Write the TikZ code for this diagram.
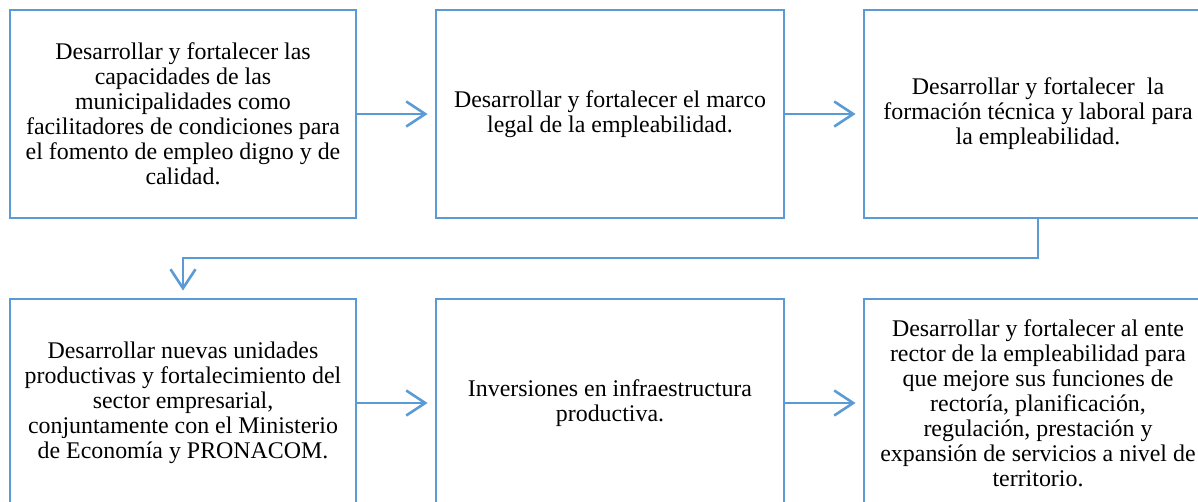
\documentclass[tikz,border=0pt]{standalone}
\usepackage{fontspec}
\setmainfont{Liberation Serif}
\usetikzlibrary{arrows.meta}
\definecolor{lineblue}{HTML}{5B9BD5}
\begin{document}
\begin{tikzpicture}[x=1bp,y=-1bp,
  box/.style={draw=lineblue, line width=2.8bp, minimum width=346bp, minimum height=208bp,
    inner sep=0pt, align=center, font=\fontsize{23.9bp}{25bp}\selectfont, text=black},
  wbox/.style={box, minimum width=348bp},
  conn/.style={draw=lineblue, line width=2.6bp, -{Straight Barb[length=19bp,width=25bp]}, shorten >=7bp}]
\useasboundingbox (0,0) rectangle (1198,502);
\clip (0,0) rectangle (1198,502);
\node[box] (b1) at (183,114) {Desarrollar y fortalecer las\\capacidades de las\\municipalidades como\\facilitadores de condiciones para\\el fomento de empleo digno y de\\calidad.};
\node[wbox] (b2) at (610,114) {Desarrollar y fortalecer el marco\\legal de la empleabilidad.};
\node[wbox] (b3) at (1038,114) {Desarrollar y fortalecer~ la\\formación técnica y laboral para\\la empleabilidad.};
\node[box] (b4) at (183,403) {Desarrollar nuevas unidades\\productivas y fortalecimiento del\\sector empresarial,\\conjuntamente con el Ministerio\\de Economía y PRONACOM.};
\node[wbox] (b5) at (610,403) {Inversiones en infraestructura\\productiva.};
\node[wbox] (b6) at (1038,403) {Desarrollar y fortalecer al ente\\rector de la empleabilidad para\\que mejore sus funciones de\\rectoría, planificación,\\regulación, prestación y\\expansión de servicios a nivel de\\territorio.};
\coordinate (turn) at (600,258);
\draw[conn] (b1.east) -- (b2.west);
\draw[conn] (b2.east) -- (b3.west);
\draw[conn] (b3.south) |- (turn) -| (b4.north);
\draw[conn] (b4.east) -- (b5.west);
\draw[conn] (b5.east) -- (b6.west);
\end{tikzpicture}
\end{document}
